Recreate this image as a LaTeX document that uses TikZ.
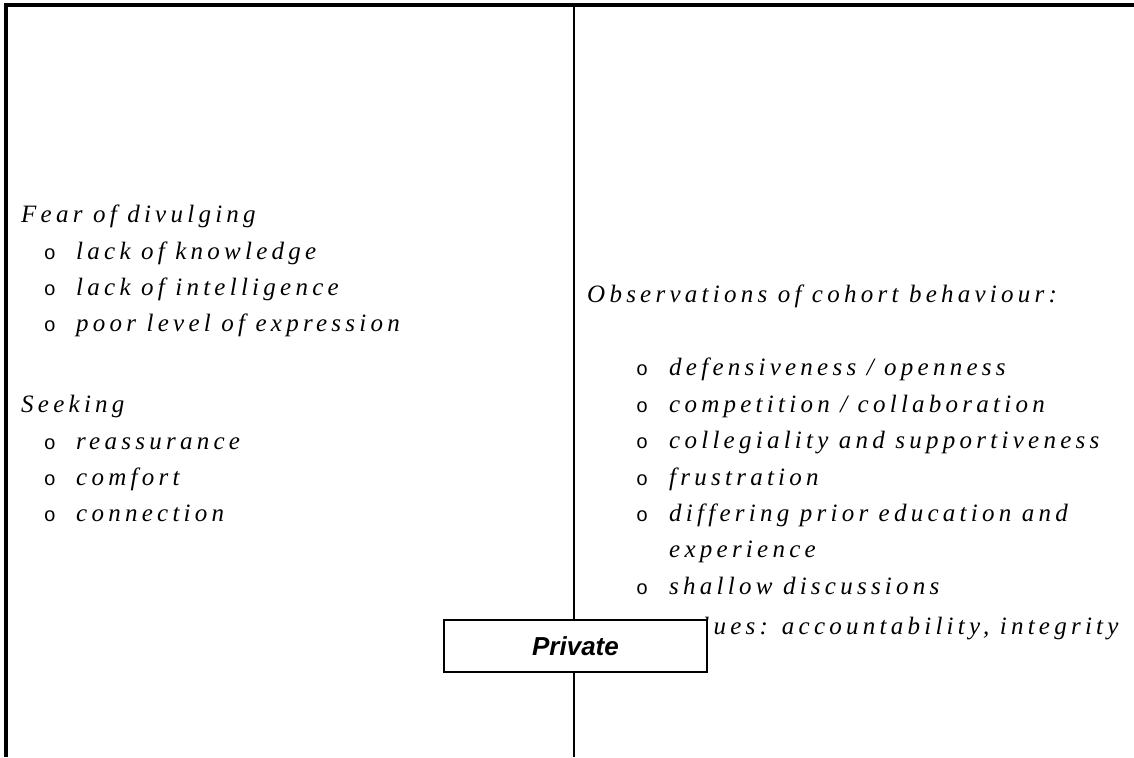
\documentclass[tikz,border=0pt]{standalone}
\usepackage{fontspec}
\setmainfont{Liberation Serif}
\newfontfamily\notefont[LetterSpace=17]{Liberation Serif}
\newfontfamily\markfont{Liberation Mono}
\newfontfamily\tagfont{Liberation Sans}
\begin{document}
\begin{tikzpicture}[x=1pt,y=-1pt,
  heading/.style={anchor=mid west, inner sep=0pt, font=\fontsize{25}{25}\selectfont\notefont\itshape},
  entry/.style={heading},
  bulletmark/.style={anchor=mid, inner sep=0pt, font=\fontsize{20}{20}\selectfont\markfont},
  frameline/.style={line width=4pt},
  divider/.style={line width=2pt},
  tagbox/.style={draw, line width=1.5pt, fill=white, minimum width=263pt, minimum height=52pt,
    inner sep=0pt, font=\fontsize{26}{26}\selectfont\tagfont\bfseries\itshape}
]
\useasboundingbox (0,0) rectangle (1134,757);

% frame: top and left edges, and the column divider
\coordinate (tl) at (6,5);
\coordinate (tr) at (1134,5);
\coordinate (bl) at (6,757);
\coordinate (dt) at (574,5);
\coordinate (db) at (574,757);
\draw[frameline] (1134,5) -- (4,5);
\draw[frameline] (6,3) -- (bl);
\draw[divider] (dt) -- (db);

% left column
\node[heading] (fear) at (21,220) {Fear of divulging};
\node[bulletmark] (b1) at (50,257) {o};
\node[entry] (e1) at (76,257) {lack of knowledge};
\node[bulletmark] (b2) at (50,293) {o};
\node[entry] (e2) at (76,293) {lack of intelligence};
\node[bulletmark] (b3) at (50,329) {o};
\node[entry] (e3) at (76,329) {poor level of expression};

\node[heading] (seek) at (21,410) {Seeking};
\node[bulletmark] (b4) at (50,447) {o};
\node[entry] (e4) at (76,447) {reassurance};
\node[bulletmark] (b5) at (50,483) {o};
\node[entry] (e5) at (76,483) {comfort};
\node[bulletmark] (b6) at (50,519) {o};
\node[entry] (e6) at (76,519) {connection};

% right column
\node[heading] (obs) at (587,300) {Observations of cohort behaviour:};
\node[bulletmark] (c1) at (642,373) {o};
\node[entry] (f1) at (669,373) {defensiveness / openness};
\node[bulletmark] (c2) at (642,410) {o};
\node[entry] (f2) at (669,410) {competition / collaboration};
\node[bulletmark] (c3) at (642,446) {o};
\node[entry] (f3) at (669,446) {collegiality and supportiveness};
\node[bulletmark] (c4) at (642,483) {o};
\node[entry] (f4) at (669,483) {frustration};
\node[bulletmark] (c5) at (642,519) {o};
\node[entry] (f5) at (669,519) {differing prior education and};
\node[entry] (f5b) at (669,555) {experience};
\node[bulletmark] (c6) at (642,592) {o};
\node[entry] (f6) at (669,592) {shallow discussions};
\node[entry] (f7) at (670,632) {values: accountability, integrity};

% label box laid over the divider
\node[tagbox] (private) at (575.5,646) {Private};
\end{tikzpicture}
\end{document}
